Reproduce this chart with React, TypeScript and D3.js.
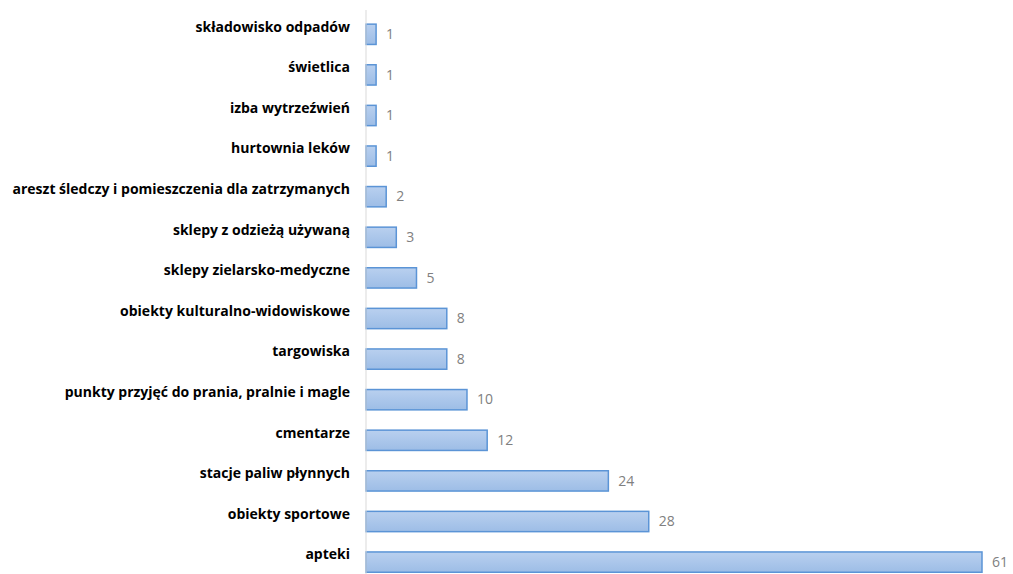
import React from 'react';
import * as d3 from 'd3';

const categories = [
  'składowisko odpadów',
  'świetlica',
  'izba wytrzeźwień',
  'hurtownia leków',
  'areszt śledczy i pomieszczenia dla zatrzymanych',
  'sklepy z odzieżą używaną',
  'sklepy zielarsko-medyczne',
  'obiekty kulturalno-widowiskowe',
  'targowiska',
  'punkty przyjęć do prania, pralnie i magle',
  'cmentarze',
  'stacje paliw płynnych',
  'obiekty sportowe',
  'apteki',
];
const values = [1, 1, 1, 1, 2, 3, 5, 8, 8, 10, 12, 24, 28, 61];

const width = 1013;
const height = 574;
const margin = { top: 14, left: 366, right: 0 };

const App: React.FC = () => {
  const x = d3.scaleLinear().domain([0, 61]).range([margin.left, 982]);
  const y = d3
    .scaleBand<string>()
    .domain(categories)
    .range([margin.top, margin.top + 40.6 * categories.length])
    .paddingInner(0.5)
    .paddingOuter(0.25);
  const bh = y.bandwidth();

  return (
    <svg width={width} height={height} style={{ position: 'absolute', left: 0, top: 0, background: '#fff' }}>
      <defs>
        <linearGradient id="barFill" x1="0" y1="0" x2="0" y2="1">
          <stop offset="0%" stopColor="#b9d0ef" />
          <stop offset="100%" stopColor="#9dbde6" />
        </linearGradient>
      </defs>
      <rect width={width} height={height} fill="#fff" />

      {/* bars */}
      {categories.map((c, i) => (
        <g key={c}>
          <rect
            x={x(0)}
            y={y(c)!}
            width={x(values[i]) - x(0)}
            height={bh}
            fill="url(#barFill)"
            stroke="#5b94d6"
            strokeWidth={1.5}
          />
          <text
            x={x(values[i]) + 10}
            y={y(c)! + bh / 2 + 1}
            dominantBaseline="middle"
            fontFamily="'Open Sans', sans-serif"
            fontSize={14}
            fill="#808080"
          >
            {values[i]}
          </text>
          <text
            x={350}
            y={y(c)! + bh / 2 - 6.5}
            dominantBaseline="middle"
            textAnchor="end"
            fontFamily="'Open Sans', sans-serif"
            fontWeight="bold"
            fontSize={14}
            fill="#000"
          >
            {c}
          </text>
        </g>
      ))}

      {/* axis line */}
      <line x1={x(0)} x2={x(0)} y1={10} y2={height} stroke="#d9d9d9" strokeWidth={1} />
    </svg>
  );
};

export default App;
